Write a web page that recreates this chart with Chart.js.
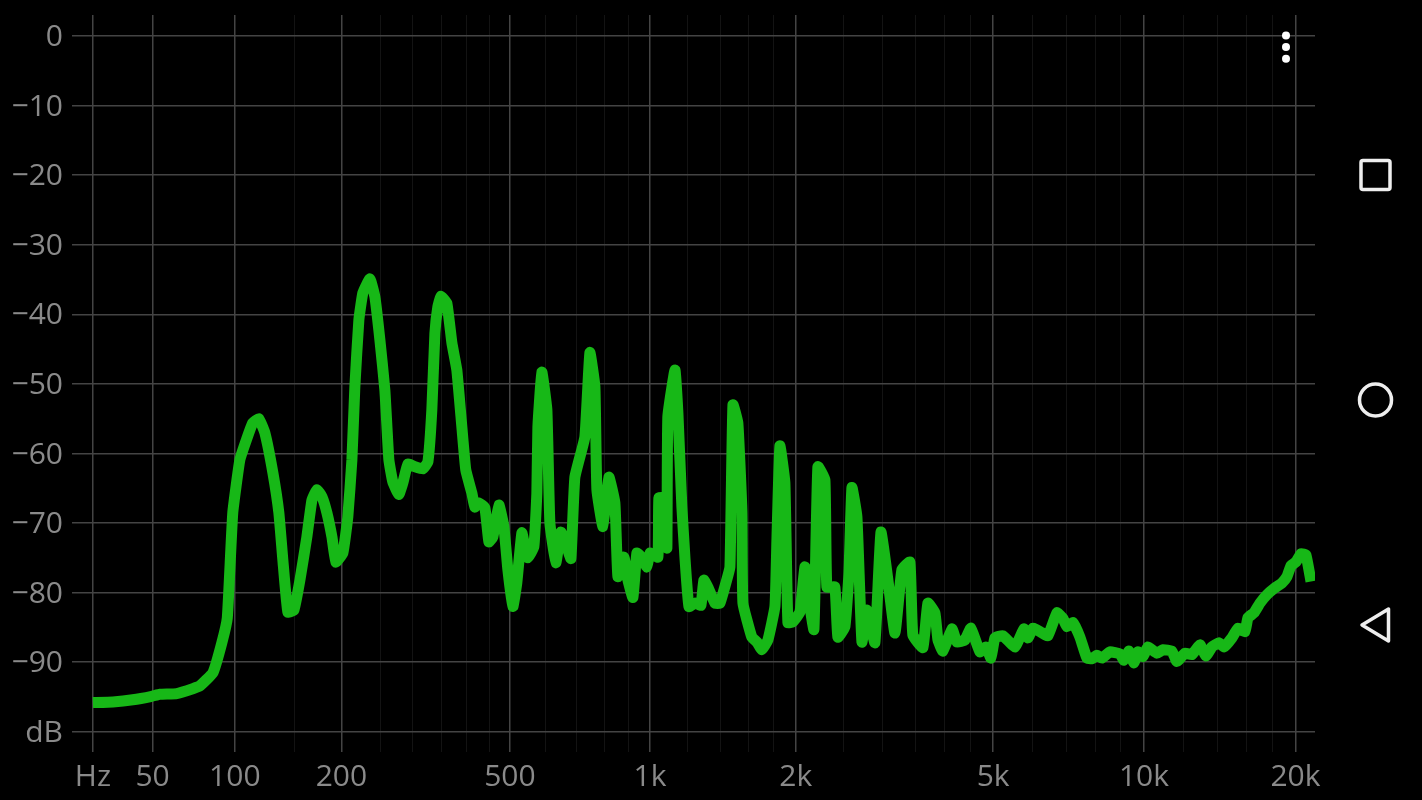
<!DOCTYPE html>
<html>
<head>
<meta charset="utf-8">
<style>
html,body{margin:0;padding:0;background:#000;width:1422px;height:800px;overflow:hidden}
#wrap{position:relative;width:1422px;height:800px}
canvas{position:absolute;left:0;top:0}
svg{position:absolute;left:0;top:0}
</style>
<script src="https://cdn.jsdelivr.net/npm/chart.js@4/dist/chart.umd.js"></script>
</head>
<body>
<div id="wrap">
<canvas id="c" width="1422" height="800"></canvas>
<svg width="1422" height="800" fill="none">
  <circle cx="1286" cy="35.5" r="4" fill="#fff"/>
  <circle cx="1286" cy="47" r="4" fill="#fff"/>
  <circle cx="1286" cy="58.7" r="4" fill="#fff"/>
  <rect x="1361" y="160.5" width="29" height="29" rx="2" stroke="#eeeeee" stroke-width="3.5"/>
  <circle cx="1375.5" cy="400" r="16" stroke="#eeeeee" stroke-width="3.5"/>
  <path d="M1362 625 L1388.5 609 L1388.5 641 Z" stroke="#eeeeee" stroke-width="3.5" stroke-linejoin="round"/>
</svg>
</div>
<script>
const freqHz = [23.8,31.8,40.5,49.6,53.7,62.8,72.1,76.4,84.8,90.8,94.6,98.5,103.7,108.7,113.6,118.5,123.4,130.3,135.5,139.1,143.7,149.4,155.2,162.1,167.3,172.5,177.9,183.3,189,193.5,201.7,207.7,212.7,216.4,221.5,226.7,236,242.8,249.8,256.9,262.7,268.6,277.7,284,291.9,303.3,316.8,325.5,332.5,338,343.4,349,360.3,370,379.8,390,398.2,411,417.4,426.3,439.8,448.9,458.2,472.7,484.9,494.9,507.7,518,531.4,539.6,547.8,564.6,573.2,576.2,587.8,602.8,612,630.5,646.5,666,679.5,693,728.1,746.3,764.9,772.4,795.6,819.2,843.6,856,881.5,898.8,920.9,938.8,961.9,985.4,999.9,1039,1044,1070,1085,1090,1128,1144,1166,1183,1206,1241,1277,1295,1320,1365,1398,1438,1466,1487,1522,1552,1559,1626,1665,1705,1754,1813,1830,1856,1900,1927,1972,2039,2087,2117,2177,2218,2292,2313,2401,2435,2516,2564,2600,2661,2724,2787,2893,2976,3074,3176,3280,3404,3451,3616,3700,3822,3876,3966,4135,4230,4390,4514,4705,4836,4950,5042,5233,5530,5764,5871,6007,6204,6436,6708,6896,7024,7220,7456,7699,7879,8059,8247,8556,8957,9122,9334,9550,9727,9952,10183,10611,10907,11366,11629,12064,12456,12924,13282,13653,14097,14422,14960,15377,15878,16097,16544,17005,17555,18211,18802,19236,19594,20045,20512,20982,21470];
const levelDb = [-95.8,-95.7,-95.4,-94.9,-94.6,-94.5,-93.8,-93.4,-91.5,-87.2,-83.6,-68.5,-60.9,-58,-55.6,-55,-57,-62.8,-68.5,-75.3,-82.8,-82.5,-78.2,-72,-66.7,-65.2,-66.2,-68.5,-72,-75.6,-74.3,-69.1,-60.9,-50.4,-40.8,-36.9,-34.9,-37.5,-43.7,-50.9,-60.9,-64.1,-65.9,-64.2,-61.5,-61.9,-62.2,-61.2,-53.7,-42.7,-38.9,-37.4,-38.4,-44.1,-48,-56.2,-62.4,-65.7,-67.7,-67.1,-67.8,-72.7,-72,-67.4,-70.5,-76.7,-82,-78.6,-71.4,-73.4,-75,-73.4,-65.7,-56.2,-48.3,-53.7,-70,-75.7,-71.3,-73.4,-75.1,-63.4,-57.6,-45.5,-50.4,-65.2,-70.5,-63.4,-67.1,-77.7,-74.9,-78.2,-80.7,-74.3,-75,-76.3,-74.3,-74.9,-66.4,-66.4,-73.6,-54.7,-48,-54.2,-67.7,-74.9,-82,-81.5,-81.8,-78.2,-79.2,-81.5,-81.5,-78.6,-76.3,-53,-55.6,-68.5,-81.5,-86.4,-87.1,-88.2,-86.8,-82,-72.4,-58.9,-64.2,-84.3,-84.2,-82.8,-76.3,-80,-85.3,-61.9,-63.8,-79.2,-79.2,-86.4,-84.9,-77.2,-64.9,-69.1,-87.1,-82.5,-87.2,-71.3,-78.2,-85.8,-76.7,-75.6,-86.1,-87.9,-81.5,-82.9,-86.8,-88.4,-85.2,-87.1,-86.8,-85.1,-88.5,-87.8,-89.4,-86.5,-86.2,-87.8,-85.2,-86.5,-85.1,-85.6,-86.2,-82.9,-83.7,-84.9,-84.3,-86.4,-89.4,-89.5,-89,-89.4,-88.5,-88.8,-89.7,-88.4,-90.1,-88.5,-89.2,-87.8,-88.7,-88.2,-88.4,-89.9,-88.7,-88.9,-87.5,-89.1,-87.8,-87.2,-87.8,-86.5,-85.1,-85.6,-83.6,-82.9,-81.5,-80.3,-79.3,-78.6,-77.7,-76.1,-75.6,-74.4,-74.6,-78.4];
const majorFreqTicks = [23.8,50,100,200,500,1000,2000,5000,10000,20000];
const freqTickLabels = ['Hz','50','100','200','500','1k','2k','5k','10k','20k'];
const minorFreqTicks = [150,250,300,350,400,450,600,700,800,900,1200,1400,1600,1800,2500,3000,3500,4000,4500,6000,7000,8000,9000,12000,14000,16000,18000];
const dbTicks = [0,-10,-20,-30,-40,-50,-60,-70,-80,-90,-100];
const dbTickLabels = ['0','−10','−20','−30','−40','−50','−60','−70','−80','−90','dB'];

const warp = f => Math.log(1 + f / 60);
class WarpedFreqScale extends Chart.LinearScale {
  getPixelForValue(v) {
    const a = warp(this.min), b = warp(this.max);
    return this.left + (warp(v) - a) / (b - a) * this.width;
  }
  getValueForPixel(p) {
    const a = warp(this.min), b = warp(this.max);
    return 60 * (Math.exp(a + (p - this.left) / this.width * (b - a)) - 1);
  }
}
WarpedFreqScale.id = 'warpedFreq';
WarpedFreqScale.defaults = Chart.LinearScale.defaults;
Chart.register(WarpedFreqScale);

const font = {family: '"Open Sans"', size: 30};
const labelColor = '#8a8a8a';

const nudgeYLabels = {
  id: 'nudgeYLabels',
  beforeDraw(chart) {
    const items = chart.scales.y.getLabelItems();
    if (items.nudged) return;
    items.forEach(it => { it.options.translation = [it.options.translation[0], it.options.translation[1] + 1.5]; });
    items.nudged = true;
  }
};

new Chart(document.getElementById('c'), {
  type: 'line',
  plugins: [nudgeYLabels],
  data: {
    datasets: [{
      data: freqHz.map((f, i) => ({x: f, y: levelDb[i]})),
      borderColor: '#17b817',
      borderWidth: 11,
      borderJoinStyle: 'round',
      borderCapStyle: 'butt',
      pointRadius: 0,
      tension: 0.12,
      fill: false
    }]
  },
  options: {
    responsive: false,
    devicePixelRatio: 1,
    animation: false,
    layout: {padding: {top: 15, right: 107, left: 0, bottom: 0}},
    plugins: {legend: {display: false}, tooltip: {enabled: false}},
    scales: {
      x: {
        type: 'warpedFreq',
        min: 16.2,
        max: 21866,
        afterBuildTicks: s => { s.ticks = majorFreqTicks.concat(minorFreqTicks).map(v => ({value: v})); },
        afterFit: s => { s.height = 48; s.paddingLeft = 0; s.paddingRight = 0; },
        border: {display: false},
        grid: {
          drawTicks: false,
          lineWidth: c => majorFreqTicks.includes(c.tick.value) ? 1.5 : 1,
          color: c => majorFreqTicks.includes(c.tick.value) ? '#444444' : '#131313'
        },
        ticks: {
          autoSkip: false, maxRotation: 0, minRotation: 0, padding: 7,
          color: labelColor, font,
          callback: v => { const i = majorFreqTicks.indexOf(v); return i >= 0 ? freqTickLabels[i] : ''; }
        }
      },
      y: {
        type: 'linear',
        min: -102.9,
        max: 3.02,
        afterBuildTicks: s => { s.ticks = dbTicks.map(v => ({value: v})); },
        afterFit: s => { s.width = 72; s.paddingTop = 0; s.paddingBottom = 0; },
        border: {display: false},
        grid: {drawTicks: false, lineWidth: 1.5, color: '#444444'},
        ticks: {
          autoSkip: false, padding: 9,
          color: labelColor, font,
          callback: v => dbTickLabels[dbTicks.indexOf(v)]
        }
      }
    }
  }
});
</script>
</body>
</html>
